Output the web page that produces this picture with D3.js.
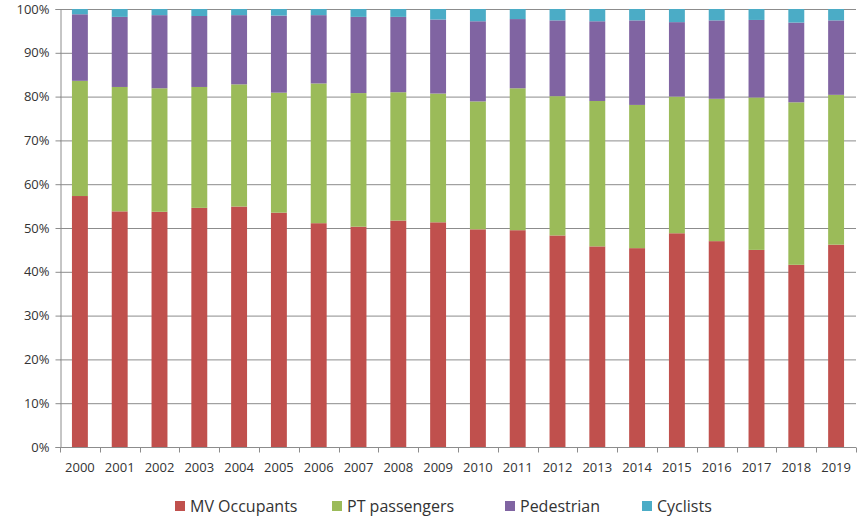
<!DOCTYPE html>
<html>
<head>
<meta charset="utf-8">
<script src="https://cdn.jsdelivr.net/npm/d3@7"></script>
<style>
  body { margin: 0; background: #fff; }
  text { font-family: "Open Sans", "Liberation Sans", sans-serif; fill: #333; }
</style>
</head>
<body>
<svg width="857" height="517"></svg>
<script>
// Years on the x axis
var years = ["2000","2001","2002","2003","2004","2005","2006","2007","2008","2009",
             "2010","2011","2012","2013","2014","2015","2016","2017","2018","2019"];

// Share of each road user group (percent)
var mvOccupants = [57.3,53.8,53.7,54.6,54.9,53.5,51.1,50.3,51.7,51.3,49.7,49.5,48.3,45.8,45.4,48.8,47.0,45.0,41.6,46.2];
var ptPassengers = [26.3,28.4,28.2,27.6,27.9,27.4,31.9,30.5,29.3,29.4,29.2,32.4,31.8,33.2,32.7,31.2,32.5,34.8,37.1,34.2];
var pedestrians = [15.2,16.0,16.7,16.2,15.8,17.6,15.6,17.4,17.2,16.9,18.3,15.8,17.3,18.2,19.3,17.0,17.9,17.7,18.2,17.0];
var cyclists = [1.2,1.8,1.4,1.6,1.4,1.5,1.4,1.8,1.8,2.4,2.8,2.3,2.6,2.8,2.6,3.0,2.6,2.5,3.1,2.6];

var seriesNames = ["MV Occupants", "PT passengers", "Pedestrian", "Cyclists"];
var seriesColors = ["#c0504d", "#9bbb59", "#8064a2", "#4bacc6"];
var yTicks = [0, 10, 20, 30, 40, 50, 60, 70, 80, 90, 100];

var svg = d3.select("svg");
var margin = {left: 60, right: 1, top: 9, bottom: 70};
var width = 857, height = 517;

// build rows for the stack layout
var rows = years.map(function (y, i) {
    return {year: y, "MV Occupants": mvOccupants[i], "PT passengers": ptPassengers[i],
            "Pedestrian": pedestrians[i], "Cyclists": cyclists[i]};
});
var stacked = d3.stack().keys(seriesNames)(rows);

var x = d3.scaleBand()
    .domain(years)
    .range([margin.left, width - margin.right])
    .paddingInner(0.6)
    .paddingOuter(0.3);

var y = d3.scaleLinear()
    .domain([0, 100])
    .range([height - margin.bottom, margin.top]);

// gridlines
svg.append("g")
    .selectAll("line")
    .data(yTicks.slice(1))
    .enter()
    .append("line")
    .attr("x1", margin.left)
    .attr("x2", width - margin.right)
    .attr("y1", function (d) { return y(d) + 0.5; })
    .attr("y2", function (d) { return y(d) + 0.5; })
    .attr("stroke", "#8c8c8c")
    .attr("stroke-width", 1);

// bars
svg.append("g")
    .selectAll("g")
    .data(stacked)
    .enter()
    .append("g")
    .attr("fill", function (d, i) { return seriesColors[i]; })
    .selectAll("rect")
    .data(function (d) { return d; })
    .enter()
    .append("rect")
    .attr("x", function (d) { return x(d.data.year); })
    .attr("width", x.bandwidth())
    .attr("y", function (d) { return y(d[1]); })
    .attr("height", function (d) { return y(d[0]) - y(d[1]); });

// y axis
var yAxis = svg.append("g")
    .attr("transform", "translate(" + (margin.left + 0.5) + ",0)")
    .call(d3.axisLeft(y).tickValues(yTicks).tickSize(5).tickFormat(function (d) { return d + "%"; }));
yAxis.select(".domain").attr("stroke", "#8c8c8c");
yAxis.selectAll(".tick line").attr("stroke", "#8c8c8c");
yAxis.selectAll("text").style("font-size", "13px").attr("x", -11);

// x axis: ticks sit between categories
var xAxisG = svg.append("g")
    .attr("transform", "translate(0," + (y(0) + 0.5) + ")");
xAxisG.append("line")
    .attr("x1", margin.left)
    .attr("x2", width - margin.right)
    .attr("stroke", "#8c8c8c");
var step = x.step();
xAxisG.selectAll(".sep")
    .data(d3.range(years.length + 1))
    .enter()
    .append("line")
    .attr("class", "sep")
    .attr("x1", function (i) { return Math.round(margin.left + i * step) + 0.5; })
    .attr("x2", function (i) { return Math.round(margin.left + i * step) + 0.5; })
    .attr("y1", 0)
    .attr("y2", 5)
    .attr("stroke", "#8c8c8c");
xAxisG.selectAll("text")
    .data(years)
    .enter()
    .append("text")
    .attr("x", function (d) { return x(d) + x.bandwidth() / 2; })
    .attr("y", 24)
    .attr("text-anchor", "middle")
    .style("font-size", "13px")
    .text(function (d) { return d; });

// legend
var legendX = [175, 332, 505, 642];
var legend = svg.append("g")
    .selectAll("g")
    .data(seriesNames)
    .enter()
    .append("g")
    .attr("transform", function (d, i) { return "translate(" + legendX[i] + ",501)"; });
legend.append("rect")
    .attr("width", 10)
    .attr("height", 10)
    .attr("fill", function (d, i) { return seriesColors[i]; });
legend.append("text")
    .attr("x", 15)
    .attr("y", 11)
    .style("font-size", "16px")
    .text(function (d) { return d; });
</script>
</body>
</html>
